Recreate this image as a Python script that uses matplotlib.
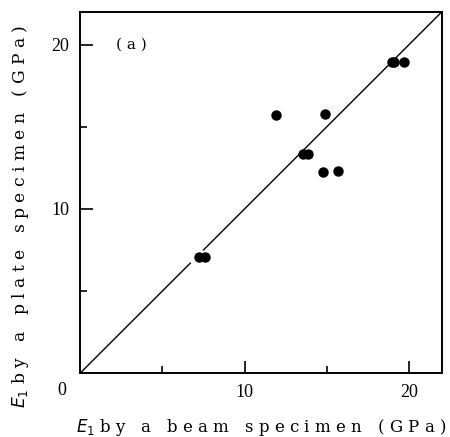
# E1 medido por placa contra E1 medido por viga, figura (a).

import numpy as np
import matplotlib.pyplot as plt

beam_E1 = [7.25, 7.62, 11.93, 14.91, 13.58, 13.86, 14.75, 15.70, 18.95, 19.10, 19.68]
plate_E1 = [7.09, 7.09, 15.69, 15.77, 13.35, 13.35, 12.24, 12.29, 18.92, 18.92, 18.92]

lim = 22
ticks_major = [10, 20]
ticks_minor = [5, 15]
# trechos da reta y = x (tem uma falha perto dos pontos de 7 GPa)
line_pieces = [(0, 6.7), (7.5, 22)]

fig = plt.figure(figsize=(4.5, 4.37), dpi=100)
ax = fig.add_axes([0.178, 0.146, 0.804, 0.827])

for a, b in line_pieces:
    xs = np.array([a, b])
    ax.plot(xs, xs, color="black", lw=1.0)

ax.plot(beam_E1, plate_E1, "o", color="black", ms=6.5, mec="black")

ax.set_xlim(0, lim)
ax.set_ylim(0, lim)

ax.set_xticks(ticks_major)
ax.set_yticks(ticks_major)
ax.set_xticks(ticks_minor, minor=True)
ax.set_yticks(ticks_minor, minor=True)
ax.tick_params(which="major", direction="in", length=9, width=1.2,
               labelsize=13, pad=8)
ax.tick_params(which="minor", direction="in", length=5, width=1.2)
for lab in ax.get_xticklabels() + ax.get_yticklabels():
    lab.set_family("Liberation Serif")

for s in ax.spines.values():
    s.set_linewidth(1.4)

ax.text(-0.05, -0.025, "0", transform=ax.transAxes, ha="center", va="top",
        fontsize=13, family="Liberation Serif")

ax.text(0.1, 20 / lim, "( a )", transform=ax.transAxes, ha="left", va="center",
        fontsize=11, family="DejaVu Serif")

fig.text(0.58, 0.022, r"$E_1$ b y   a   b e a m   s p e c i m e n   ( G P a )",
         ha="center", va="center", fontsize=12, family="DejaVu Serif")
fig.text(0.045, 0.505, r"$E_1$ b y   a   p l a t e   s p e c i m e n   ( G P a )",
         ha="center", va="center", rotation=90, fontsize=12.3, family="DejaVu Serif")

fig.savefig("out.png", dpi=100)
